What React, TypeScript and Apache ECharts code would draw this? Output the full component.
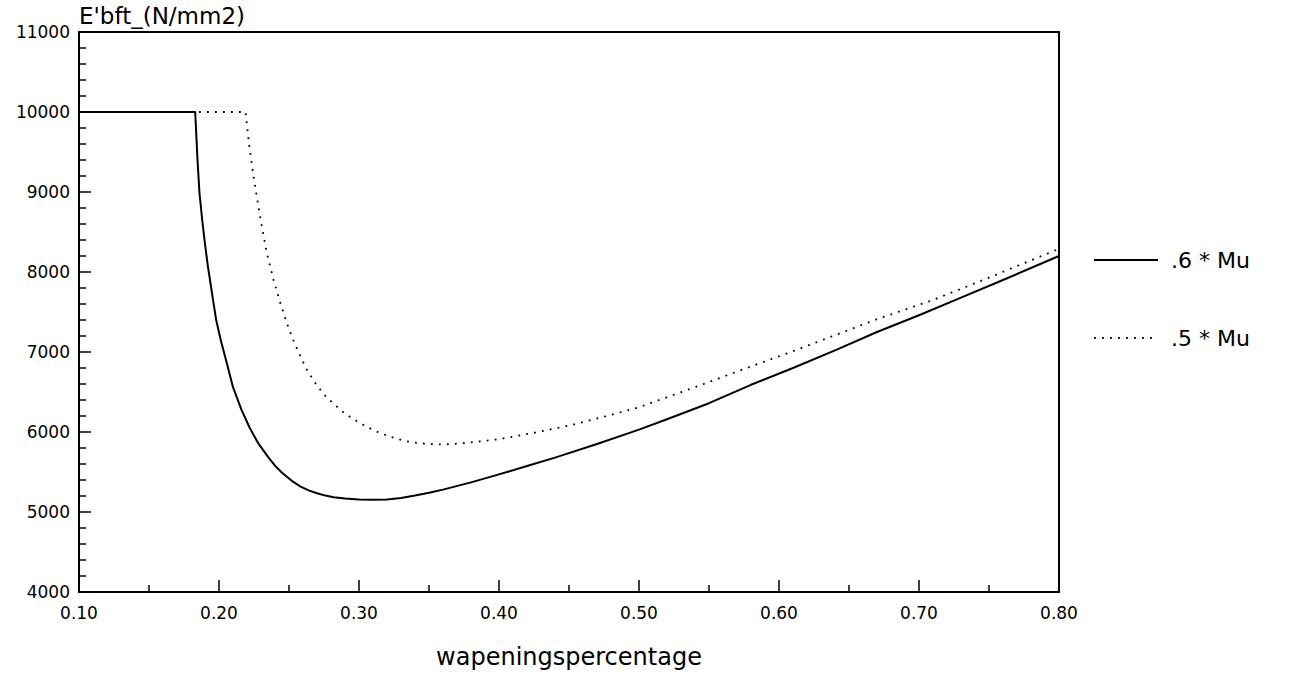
import React, { useEffect, useRef } from "react";
import * as echarts from "echarts";

const xTicks = [0.1, 0.2, 0.3, 0.4, 0.5, 0.6, 0.7, 0.8];
const yTicks = [4000, 5000, 6000, 7000, 8000, 9000, 10000, 11000];

const solidName = ".6 * Mu";
const solidX = [0.1, 0.183, 0.1845, 0.186, 0.188, 0.19, 0.192, 0.194, 0.196, 0.198, 0.2015, 0.205, 0.21, 0.216, 0.222, 0.228, 0.235, 0.24, 0.245, 0.252, 0.258, 0.264, 0.27, 0.276, 0.282, 0.29, 0.3, 0.31, 0.32, 0.33, 0.34, 0.35, 0.36, 0.38, 0.4, 0.42, 0.44, 0.47, 0.5, 0.52, 0.55, 0.58, 0.61, 0.64, 0.67, 0.7, 0.73, 0.76, 0.8];
const solidY = [10000, 10000, 9450, 9000, 8650, 8350, 8080, 7850, 7620, 7400, 7130, 6900, 6560, 6280, 6050, 5860, 5690, 5580, 5490, 5390, 5320, 5270, 5235, 5205, 5185, 5168, 5155, 5152, 5155, 5175, 5205, 5240, 5280, 5370, 5470, 5575, 5680, 5850, 6030, 6160, 6360, 6590, 6800, 7020, 7250, 7460, 7680, 7900, 8200];

const dottedName = ".5 * Mu";
const dottedX = [0.1, 0.219, 0.2205, 0.222, 0.2245, 0.227, 0.2305, 0.234, 0.239, 0.244, 0.2485, 0.253, 0.258, 0.263, 0.27, 0.276, 0.282, 0.29, 0.297, 0.305, 0.312, 0.32, 0.328, 0.335, 0.343, 0.35, 0.358, 0.365, 0.372, 0.38, 0.4, 0.425, 0.45, 0.475, 0.5, 0.54, 0.577, 0.61, 0.64, 0.67, 0.71, 0.75, 0.8];
const dottedY = [10000, 10000, 9750, 9520, 9220, 8940, 8580, 8250, 7900, 7600, 7360, 7150, 6950, 6770, 6580, 6450, 6350, 6230, 6150, 6070, 6010, 5955, 5910, 5880, 5860, 5850, 5845, 5848, 5857, 5870, 5910, 5990, 6080, 6190, 6310, 6560, 6800, 7010, 7210, 7410, 7650, 7930, 8290];

const yTitle = "E'bft_(N/mm2)";
const xTitle = "wapeningspercentage";

const FONT = "DejaVu Sans";

export default function App() {
  const ref = useRef<HTMLDivElement>(null);
  useEffect(() => {
    if (!ref.current) return;
    const chart = echarts.init(ref.current, undefined, { renderer: "svg" });
    const pairs = (xs: number[], ys: number[]) => xs.map((x, i) => [x, ys[i]]);
    chart.setOption({
      animation: false,
      backgroundColor: "#fff",
      grid: {
        left: 79,
        right: 250,
        top: 32,
        bottom: 88,
        show: true,
        borderColor: "#000",
        borderWidth: 2,
        backgroundColor: "transparent",
        containLabel: false,
        outerBoundsMode: "none",
      },
      legend: {
        orient: "vertical",
        left: 1088,
        top: 244,
        itemWidth: 64,
        itemHeight: 22,
        itemGap: 56,
        itemStyle: { opacity: 0 },
        textStyle: { fontFamily: FONT, fontSize: 22, color: "#000", padding: [0, 0, 0, 8] },
        data: [{ name: solidName }, { name: dottedName }],
      },
      xAxis: {
        type: "value",
        min: xTicks[0],
        max: xTicks[xTicks.length - 1],
        interval: 0.1,
        name: xTitle,
        nameLocation: "middle",
        nameGap: 53,
        nameTextStyle: { fontFamily: FONT, fontSize: 24, color: "#000" },
        axisLine: { show: true, lineStyle: { color: "#000", width: 2 } },
        axisTick: { show: true, inside: true, length: 12, lineStyle: { color: "#000", width: 1.5 } },
        minorTick: { show: true, splitNumber: 2, length: 7, lineStyle: { color: "#000", width: 1.5 } },
        splitLine: { show: false },
        axisLabel: {
          fontFamily: FONT,
          fontSize: 17,
          color: "#000",
          margin: 12,
          formatter: (v: number) => v.toFixed(2),
        },
      },
      yAxis: {
        type: "value",
        min: yTicks[0],
        max: yTicks[yTicks.length - 1],
        interval: 1000,
        name: yTitle,
        nameLocation: "end",
        nameGap: 5,
        nameTextStyle: { fontFamily: FONT, fontSize: 23, color: "#000", align: "left" },
        axisLine: { show: true, lineStyle: { color: "#000", width: 2 } },
        axisTick: { show: true, inside: true, length: 12, lineStyle: { color: "#000", width: 1.5 } },
        minorTick: { show: true, splitNumber: 5, length: 7, lineStyle: { color: "#000", width: 1.5 } },
        splitLine: { show: false },
        axisLabel: {
          fontFamily: FONT,
          fontSize: 17,
          color: "#000",
          margin: 9,
          formatter: (v: number) => String(v),
        },
      },
      series: [
        {
          name: solidName,
          type: "line",
          data: pairs(solidX, solidY),
          showSymbol: false,
          symbol: "none",
          smooth: false,
          lineStyle: { color: "#000", width: 2, join: "round" },
          itemStyle: { color: "#000" },
        },
        {
          name: dottedName,
          type: "line",
          data: pairs(dottedX, dottedY),
          showSymbol: false,
          symbol: "none",
          smooth: false,
          lineStyle: { color: "#000", width: 1.8, type: [1.8, 6.2] },
          itemStyle: { color: "#000" },
        },
      ],
    });
    return () => chart.dispose();
  }, []);
  return (
    <div
      ref={ref}
      style={{ position: "fixed", left: 0, top: 0, width: 1309, height: 680, background: "#fff" }}
    />
  );
}
